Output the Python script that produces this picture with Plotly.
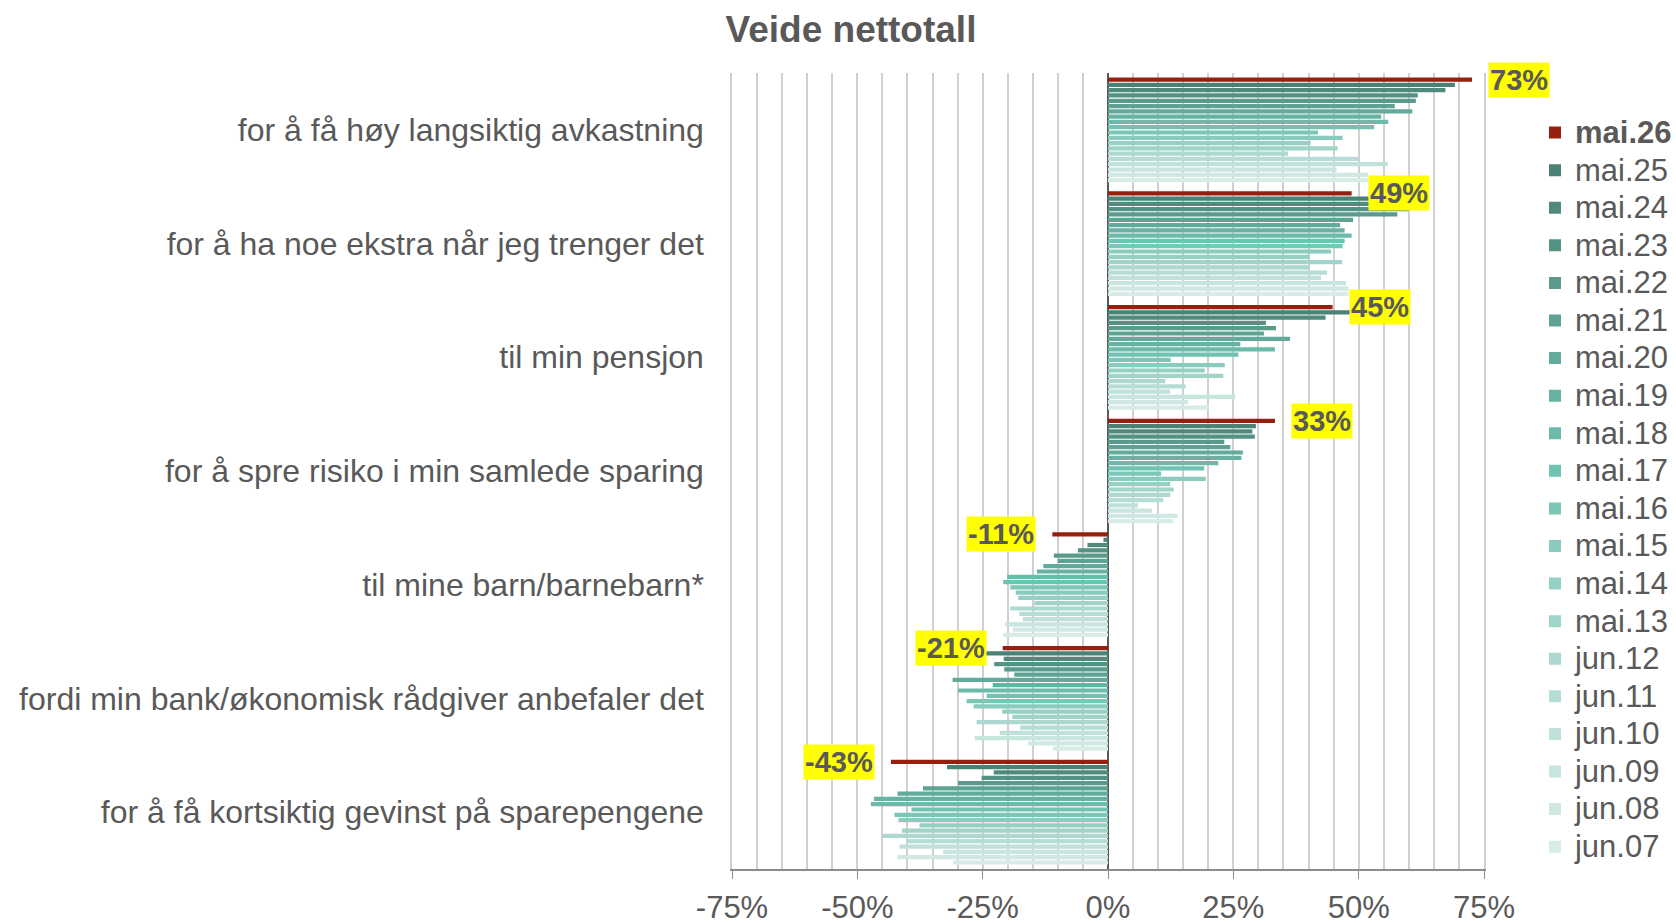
import plotly.graph_objects as go

categories = [
    "for å få høy langsiktig avkastning",
    "for å ha noe ekstra når jeg trenger det",
    "til min pensjon",
    "for å spre risiko i min samlede sparing",
    "til mine barn/barnebarn*",
    "fordi min bank/økonomisk rådgiver anbefaler det",
    "for å få kortsiktig gevinst på sparepengene",
]

series_names = ["mai.26", "mai.25", "mai.24", "mai.23", "mai.22", "mai.21", "mai.20",
                "mai.19", "mai.18", "mai.17", "mai.16", "mai.15", "mai.14", "mai.13",
                "jun.12", "jun.11", "jun.10", "jun.09", "jun.08", "jun.07"]

mai26 = [72.6, 48.6, 44.8, 33.3, -11.1, -21.0, -43.3]
mai25 = [69.2, 52.0, 50.0, 29.5, -0.9, -24.5, -32.1]
mai24 = [67.3, 55.0, 43.4, 28.8, -4.1, -20.8, -22.8]
mai23 = [61.8, 60.0, 31.5, 29.3, -6.0, -22.7, -25.2]
mai22 = [61.4, 57.7, 33.5, 23.2, -10.8, -20.7, -29.9]
mai21 = [57.2, 48.9, 31.1, 24.4, -10.0, -18.7, -36.9]
mai20 = [60.7, 46.3, 36.3, 26.9, -12.9, -31.0, -42.0]
mai19 = [54.5, 47.2, 26.4, 26.6, -14.2, -23.0, -46.7]
mai18 = [55.9, 48.6, 33.3, 22.0, -20.1, -29.9, -47.3]
mai17 = [53.1, 47.2, 26.0, 19.2, -20.9, -24.2, -39.2]
mai16 = [41.9, 46.8, 12.5, 10.6, -19.5, -28.2, -42.6]
mai15 = [46.8, 44.5, 23.3, 19.5, -18.4, -26.8, -41.8]
mai14 = [40.4, 40.2, 19.3, 12.4, -17.9, -21.1, -37.6]
mai13 = [45.8, 46.7, 23.0, 13.1, -14.7, -19.1, -41.1]
jun12 = [35.9, 40.2, 11.4, 12.4, -19.5, -26.2, -45.0]
jun11 = [49.9, 43.7, 15.5, 11.0, -17.7, -17.5, -40.2]
jun10 = [55.8, 42.5, 12.4, 6.0, -17.0, -21.6, -41.6]
jun09 = [45.6, 47.5, 25.4, 8.8, -20.5, -26.6, -32.9]
jun08 = [51.9, 48.0, 16.0, 13.9, -19.0, -15.9, -42.0]
jun07 = [52.0, 48.0, 20.1, 13.0, -20.9, -11.0, -30.9]

series_values = [mai26, mai25, mai24, mai23, mai22, mai21, mai20, mai19, mai18, mai17,
                 mai16, mai15, mai14, mai13, jun12, jun11, jun10, jun09, jun08, jun07]

colors = ["#962010", "#4A8276", "#4F8A7D", "#549285", "#599A8C", "#5EA294", "#62AA9B",
          "#67B2A3", "#6BBAAA", "#70C2B2", "#7CC6B7", "#89CBBE", "#95D0C4", "#A1D4C9",
          "#ACD8CF", "#B6DDD5", "#BFE1DA", "#C8E5DF", "#D0E8E3", "#D8ECE7"]

tick_values = [-75, -50, -25, 0, 25, 50, 75]
tick_labels = ["-75%", "-50%", "-25%", "0%", "25%", "50%", "75%"]

FONT = "Arial, 'Liberation Sans', sans-serif"
GREY = "#595959"
BARGAP = 0.07
BARGROUPGAP = 0.2

fig = go.Figure()
for name, vals, col in zip(series_names, series_values, colors):
    inner = f"<b>{name}</b>" if name == "mai.26" else name
    label = f'<span style="font-size:31px">{inner}</span>'
    fig.add_trace(go.Bar(
        y=categories, x=vals, name=label, orientation="h",
        marker=dict(color=col, line=dict(width=0)),
        hovertemplate=f"{name}: %{{x:.0f}}%<extra></extra>",
    ))

# data labels for the latest series (first trace, top bar of each group)
n = len(series_names)
slot = (1 - BARGAP) / n
for i, v in enumerate(mai26):
    ypos = i - (1 - BARGAP) / 2 + slot / 2
    pos = v >= 0
    fig.add_annotation(
        x=v, y=ypos, xref="x", yref="y",
        text=f"<b>{round(v)}%</b>", showarrow=False,
        xanchor="left" if pos else "right", yanchor="middle",
        xshift=16 if pos else -16,
        bgcolor="#FFFF00", borderpad=1,
        font=dict(family=FONT, size=29, color=GREY),
    )

fig.update_layout(
    width=1676, height=923,
    margin=dict(l=732, r=192, t=73, b=54, autoexpand=False),
    paper_bgcolor="white", plot_bgcolor="white",
    barmode="group", bargap=BARGAP, bargroupgap=BARGROUPGAP,
    title=dict(text="<b>Veide nettotall</b>", x=851 / 1676, xanchor="center",
               y=1 - 29 / 923, yanchor="middle",
               font=dict(family=FONT, size=37, color=GREY)),
    font=dict(family=FONT, color=GREY),
    legend=dict(x=1.0678, xanchor="left", y=0.955, yanchor="top",
                font=dict(family=FONT, size=26.6, color=GREY),
                traceorder="normal", itemwidth=30, bgcolor="rgba(0,0,0,0)"),
    showlegend=True,
)

fig.update_xaxes(
    range=[-75, 75], tickvals=tick_values, ticktext=tick_labels,
    showgrid=True, gridcolor="#D0D0D0", gridwidth=1.5,
    minor=dict(dtick=5, tick0=0, showgrid=True, gridcolor="#D0D0D0", gridwidth=1.5),
    zeroline=True, zerolinecolor="#595959", zerolinewidth=1.5,
    showline=True, linecolor="#8C8C8C", linewidth=1.5,
    ticks="outside", ticklen=8, tickcolor="#8C8C8C", ticklabelstandoff=2,
    tickfont=dict(family=FONT, size=31, color=GREY),
)
fig.update_yaxes(
    range=[len(categories) - 0.5, -0.5], autorange=False,
    showgrid=False, zeroline=False,
    showline=True, mirror=True, linecolor="#D0D0D0", linewidth=1.5,
    ticks="", ticklabelstandoff=20,
    tickfont=dict(family=FONT, size=32, color=GREY),
)

fig.write_html("out.html", config={"displayModeBar": False},
               post_script="document.body.style.margin='0';")
